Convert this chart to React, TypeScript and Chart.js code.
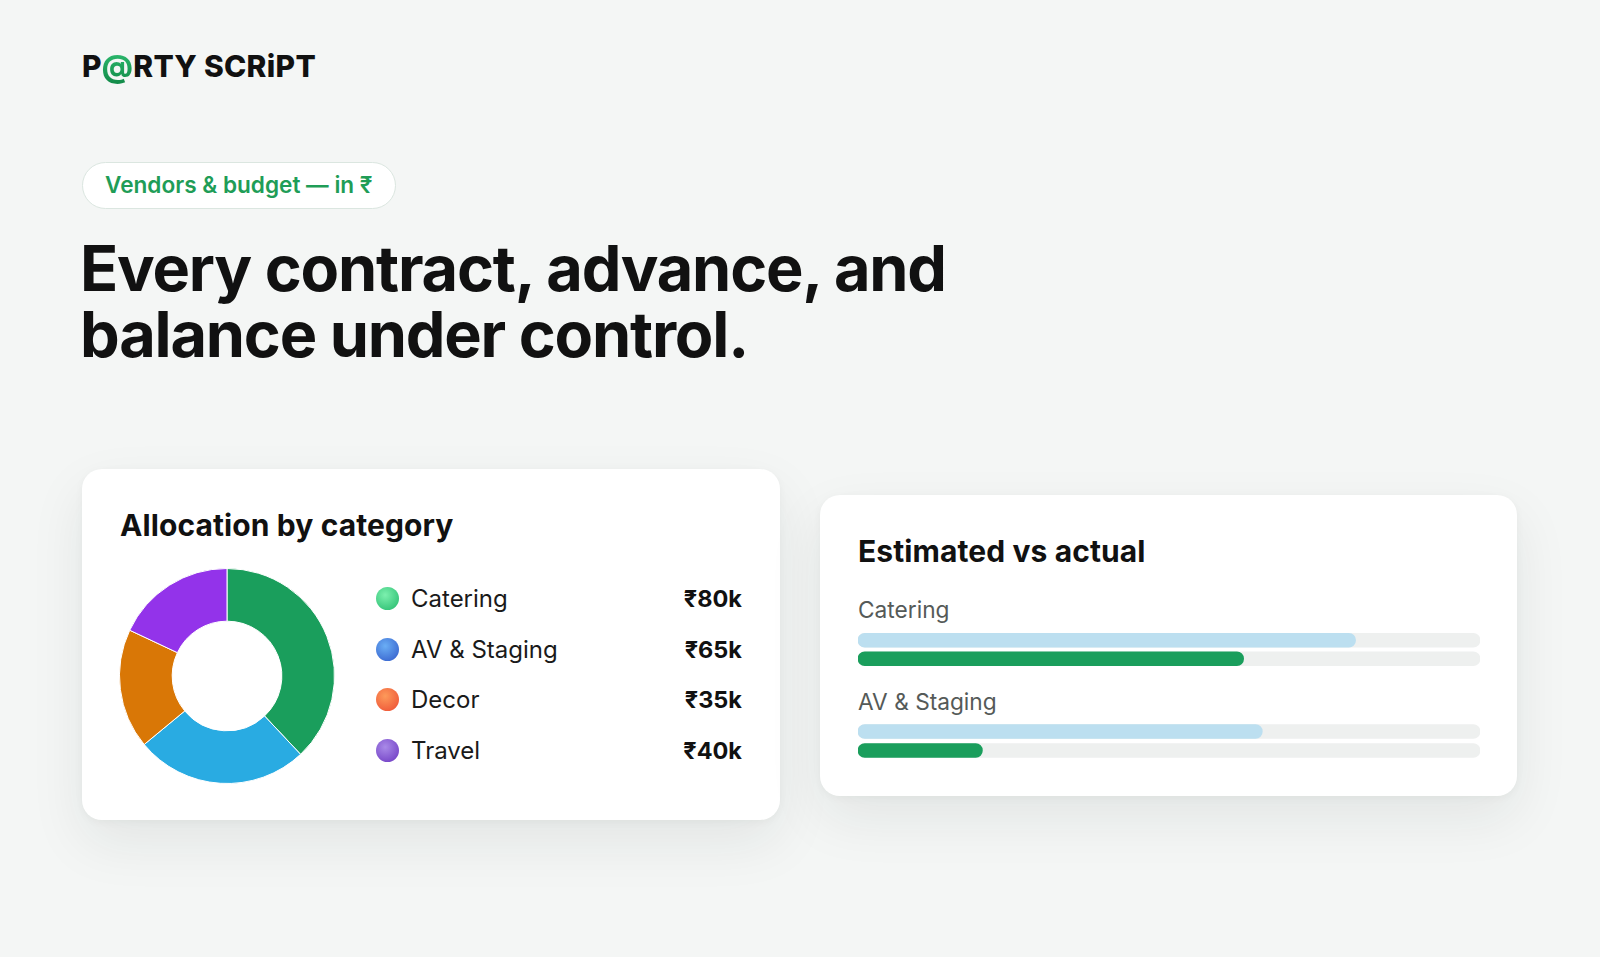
import React, { useEffect, useRef } from "react";
import { Chart, registerables } from "chart.js";

Chart.register(...registerables);

// ---- data ----
const allocationCategories = ["Catering", "AV & Staging", "Decor", "Travel"];
const allocationValues = [80, 65, 35, 40]; // ₹ thousands (legend)
const donutShares = [38, 26, 18, 18]; // share of ring, % (read from the ring)
const donutColors = ["#1a9e5c", "#29abe2", "#d97706", "#9333ea"];
const legendDotGradients = [
  ["#7cf0ae", "#22b86a"],
  ["#6aaef5", "#3058c8"],
  ["#fd9a5a", "#ec4a32"],
  ["#a98ae8", "#6a35c0"],
];

const barCategories = ["Catering", "AV & Staging"];
const estimatedValues = [80, 65]; // ₹ thousands
const actualValues = [62, 20]; // ₹ thousands
const budgetScaleMax = 100;
const barRowLabels = ["Estimated", "Actual"];

const FONT = "Inter, 'Noto Sans', sans-serif";

function Donut() {
  const ref = useRef<HTMLCanvasElement | null>(null);
  useEffect(() => {
    if (!ref.current) return;
    const chart = new Chart(ref.current, {
      type: "doughnut",
      data: {
        labels: allocationCategories,
        datasets: [
          {
            data: donutShares,
            backgroundColor: donutColors,
            borderColor: "#ffffff",
            borderWidth: 1,
          },
        ],
      },
      options: {
        animation: false,
        responsive: false,
        maintainAspectRatio: false,
        cutout: "51%",
        layout: { padding: 0 },
        plugins: { legend: { display: false }, tooltip: { enabled: false } },
      },
    });
    return () => chart.destroy();
  }, []);
  return (
    <canvas
      ref={ref}
      width={216}
      height={216}
      style={{ position: "absolute", left: 119, top: 568, width: 216, height: 216 }}
    />
  );
}

function BarPair({ index, top, height }: { index: number; top: number; height: number }) {
  const ref = useRef<HTMLCanvasElement | null>(null);
  useEffect(() => {
    if (!ref.current) return;
    const chart = new Chart(ref.current, {
      type: "bar",
      data: {
        labels: barRowLabels,
        datasets: [
          {
            label: barCategories[index],
            data: [estimatedValues[index], actualValues[index]],
            backgroundColor: ["#bcdff0", "#1a9e5c"],
            borderRadius: 7,
            borderSkipped: false,
            barThickness: 14,
            grouped: false,
            order: 0,
          } as any,
          {
            label: "track",
            data: [budgetScaleMax, budgetScaleMax],
            backgroundColor: "#eef0ef",
            borderRadius: 7,
            borderSkipped: false,
            barThickness: 14,
            grouped: false,
            order: 1,
          } as any,
        ],
      },
      options: {
        animation: false,
        responsive: false,
        maintainAspectRatio: false,
        indexAxis: "y",
        layout: { padding: 0 },
        scales: {
          x: { display: false, min: 0, max: budgetScaleMax },
          y: { display: false },
        },
        plugins: { legend: { display: false }, tooltip: { enabled: false } },
      },
    });
    return () => chart.destroy();
  }, [index]);
  return (
    <canvas
      ref={ref}
      width={622}
      height={height}
      style={{ position: "absolute", left: 858, top, width: 622, height }}
    />
  );
}

export default function App() {
  useEffect(() => {
    document.body.style.margin = "0";
    document.body.style.background = "#f4f6f5";
  }, []);

  const cardStyle: React.CSSProperties = {
    position: "absolute",
    background: "#ffffff",
    borderRadius: 20,
    boxShadow: "0 22px 55px rgba(30,40,35,0.08), 0 2px 8px rgba(30,40,35,0.04)",
  };

  const legendTop = [587, 638, 688, 739];

  const headlineStyle: React.CSSProperties = {
    position: "absolute",
    left: 80,
    fontSize: 63,
    lineHeight: "66px",
    fontWeight: 700,
    color: "#111111",
    letterSpacing: -1.2,
    whiteSpace: "nowrap",
  };

  const titleStyle: React.CSSProperties = {
    position: "absolute",
    fontSize: 30,
    lineHeight: "30px",
    fontWeight: 700,
    color: "#111111",
    letterSpacing: 0.1,
    whiteSpace: "nowrap",
  };

  return (
    <div
      style={{
        position: "absolute",
        left: 0,
        top: 0,
        width: 1600,
        height: 957,
        background: "#f4f6f5",
        fontFamily: FONT,
        overflow: "hidden",
      }}
    >
      {/* Logo */}
      <div
        style={{
          position: "absolute",
          left: 82,
          top: 51,
          fontSize: 30,
          lineHeight: "30px",
          fontWeight: 800,
          color: "#111111",
          letterSpacing: 0.3,
          whiteSpace: "nowrap",
        }}
      >
        P
        <span
          style={{
            background: "linear-gradient(180deg, #2fbf72, #128a48)",
            WebkitBackgroundClip: "text",
            backgroundClip: "text",
            color: "transparent",
          }}
        >
          @
        </span>
        RTY SCRiPT
      </div>

      {/* Pill */}
      <div
        style={{
          position: "absolute",
          left: 82,
          top: 162,
          width: 312,
          height: 45,
          borderRadius: 24,
          border: "1px solid #dbe6e0",
          background: "#ffffff",
          boxSizing: "content-box",
        }}
      >
        <div
          style={{
            position: "absolute",
            left: 22,
            top: 11,
            fontSize: 22.6,
            lineHeight: "22px",
            fontWeight: 600,
            color: "#1f9d57",
            whiteSpace: "nowrap",
          }}
        >
          Vendors &amp; budget — in ₹
        </div>
      </div>

      {/* Headline */}
      <div style={{ ...headlineStyle, top: 235 }}>Every contract, advance, and</div>
      <div style={{ ...headlineStyle, top: 301 }}>balance under control.</div>

      {/* Left card */}
      <div style={{ ...cardStyle, left: 82, top: 469, width: 698, height: 351 }} />
      <div style={{ ...titleStyle, left: 120, top: 510 }}>Allocation by category</div>
      <Donut />
      {allocationCategories.map((c, i) => (
        <React.Fragment key={c}>
          <div
            style={{
              position: "absolute",
              left: 376,
              top: legendTop[i],
              width: 23,
              height: 23,
              borderRadius: "50%",
              background: `radial-gradient(circle at 40% 35%, ${legendDotGradients[i][0]}, ${legendDotGradients[i][1]})`,
            }}
          />
          <div
            style={{
              position: "absolute",
              left: 411,
              top: legendTop[i],
              fontSize: 24,
              lineHeight: "24px",
              color: "#1a1a1a",
              whiteSpace: "nowrap",
            }}
          >
            {c}
          </div>
          <div
            style={{
              position: "absolute",
              right: 1600 - 742,
              top: legendTop[i],
              fontSize: 23.5,
              lineHeight: "24px",
              fontWeight: 700,
              color: "#111111",
              whiteSpace: "nowrap",
            }}
          >
            {`₹${allocationValues[i]}k`}
          </div>
        </React.Fragment>
      ))}

      {/* Right card */}
      <div style={{ ...cardStyle, left: 820, top: 495, width: 697, height: 301 }} />
      <div style={{ ...titleStyle, left: 858, top: 536 }}>Estimated vs actual</div>
      {barCategories.map((c, i) => (
        <div
          key={c}
          style={{
            position: "absolute",
            left: 858,
            top: i === 0 ? 599 : 691,
            fontSize: 22.7,
            lineHeight: "22px",
            color: "#555a58",
            whiteSpace: "nowrap",
          }}
        >
          {c}
        </div>
      ))}
      <BarPair index={0} top={631} height={37} />
      <BarPair index={1} top={722} height={38} />
    </div>
  );
}
